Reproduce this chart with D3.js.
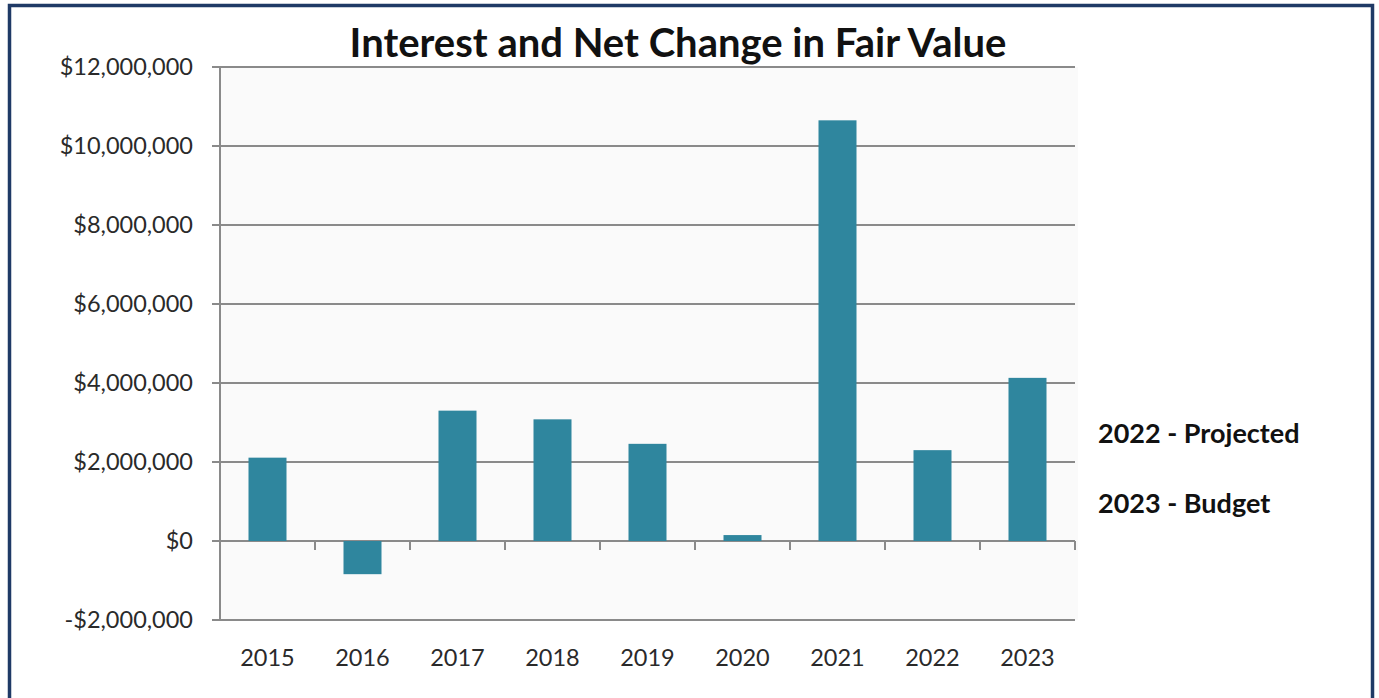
<!DOCTYPE html>
<html>
<head>
<meta charset="utf-8">
<script src="https://cdn.jsdelivr.net/npm/d3@7"></script>
<style>
  body { margin: 0; background: #fff; }
  svg text { font-family: Lato, "Open Sans", sans-serif; }
</style>
</head>
<body>
<svg id="chart" width="1379" height="698"></svg>
<script>
const years = ["2015", "2016", "2017", "2018", "2019", "2020", "2021", "2022", "2023"];
const amounts = [2110000, -840000, 3300000, 3080000, 2460000, 150000, 10650000, 2300000, 4130000];
const yTicks = [-2000000, 0, 2000000, 4000000, 6000000, 8000000, 10000000, 12000000];
const notes = ["2022 - Projected", "2023 - Budget"];

const svg = d3.select("#chart");
const margin = {top: 67, left: 220, right: 304, bottom: 78};
const width = 1379 - margin.left - margin.right;
const height = 698 - margin.top - margin.bottom;

// frame
svg.append("rect")
   .attr("x", 9.5).attr("y", 5.5)
   .attr("width", 1363).attr("height", 700)
   .attr("fill", "#fff")
   .attr("stroke", "#1f3a66")
   .attr("stroke-width", 3.5);

const chart = svg.append("g")
                 .attr("transform", "translate(" + margin.left + "," + margin.top + ")");

const x = d3.scaleBand().domain(years).range([0, width]).paddingInner(0.6).paddingOuter(0.3);
const y = d3.scaleLinear().domain([-2000000, 12000000]).range([height, 0]);

// plot background
chart.append("rect")
     .attr("x", 0).attr("y", 0)
     .attr("width", width + 3).attr("height", height)
     .attr("fill", "#fafafa");

// gridlines
chart.append("g")
     .selectAll("line")
     .data(yTicks)
     .enter().append("line")
     .attr("x1", -8).attr("x2", width)
     .attr("y1", d => y(d)).attr("y2", d => y(d))
     .attr("stroke", "#8a8a8a")
     .attr("stroke-width", 2);

// y axis
const yAxis = chart.append("g")
     .call(d3.axisLeft(y).tickValues(yTicks).tickSize(0).tickPadding(27)
       .tickFormat(d => (d < 0 ? "-$" : "$") + d3.format(",")(Math.abs(d))));
yAxis.select(".domain").remove();
yAxis.selectAll("text")
     .attr("font-size", 23.5)
     .attr("fill", "#2a2a2a");
chart.append("line")
     .attr("x1", 0).attr("x2", 0)
     .attr("y1", 0).attr("y2", height)
     .attr("stroke", "#8a8a8a")
     .attr("stroke-width", 2);

// bars
chart.selectAll(".bar")
     .data(years)
     .enter().append("rect")
     .attr("class", "bar")
     .attr("x", d => x(d))
     .attr("width", x.bandwidth())
     .attr("y", (d, i) => y(Math.max(0, amounts[i])))
     .attr("height", (d, i) => Math.abs(y(amounts[i]) - y(0)))
     .attr("fill", "#2f869e");

// category ticks on the zero line
const step = x.step();
chart.append("g")
     .selectAll("line")
     .data(years)
     .enter().append("line")
     .attr("x1", (d, i) => (i + 1) * step).attr("x2", (d, i) => (i + 1) * step)
     .attr("y1", y(0)).attr("y2", y(0) + 9)
     .attr("stroke", "#8a8a8a")
     .attr("stroke-width", 2);

// x labels
chart.append("g")
     .selectAll("text")
     .data(years)
     .enter().append("text")
     .attr("x", d => x(d) + x.bandwidth() / 2)
     .attr("y", height + 46)
     .attr("text-anchor", "middle")
     .attr("font-size", 23.5)
     .attr("fill", "#2a2a2a")
     .text(d => d);

// title
svg.append("text")
   .attr("x", 678).attr("y", 57)
   .attr("text-anchor", "middle")
   .attr("font-size", 40)
   .attr("font-weight", "bold")
   .attr("fill", "#111")
   .text("Interest and Net Change in Fair Value");

// side notes
svg.append("g")
   .selectAll("text")
   .data(notes)
   .enter().append("text")
   .attr("x", 1098)
   .attr("y", (d, i) => 443 + i * 70)
   .attr("font-size", 27)
   .attr("font-weight", "bold")
   .attr("fill", "#111")
   .text(d => d);
</script>
</body>
</html>
